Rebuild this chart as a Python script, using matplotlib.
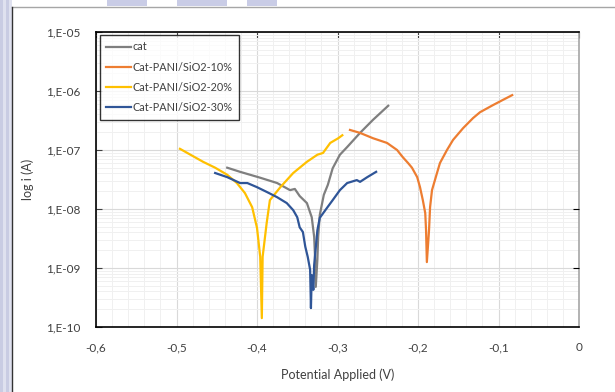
import numpy as np
import matplotlib
matplotlib.use('Agg')
import matplotlib.pyplot as plt
from matplotlib.patches import Rectangle
from matplotlib.lines import Line2D
from matplotlib.ticker import FixedLocator, NullFormatter, MultipleLocator

plt.rcParams['font.family'] = ['Lato', 'DejaVu Sans']

# potential (V) and log10 of current (A)
v_cat = [-0.437, -0.421, -0.396, -0.375, -0.359, -0.353, -0.347, -0.338, -0.332, -0.329,
         -0.328, -0.327, -0.325, -0.324, -0.322, -0.317, -0.312, -0.306, -0.297, -0.288,
         -0.272, -0.256, -0.237]
logi_cat = [-7.30, -7.37, -7.47, -7.56, -7.68, -7.66, -7.78, -7.90, -8.14, -8.47,
            -8.78, -9.32, -8.86, -8.47, -8.10, -7.76, -7.59, -7.31, -7.08, -6.95,
            -6.71, -6.49, -6.25]

v_10 = [-0.2845, -0.272, -0.256, -0.2385, -0.226, -0.219, -0.2124, -0.2075, -0.201, -0.1975,
        -0.194, -0.191, -0.190, -0.189, -0.1863, -0.185, -0.1826, -0.1764, -0.1727, -0.164,
        -0.1565, -0.144, -0.1317, -0.123, -0.107, -0.0944, -0.083]
logi_10 = [-6.66, -6.71, -6.80, -6.88, -7.00, -7.12, -7.22, -7.30, -7.46, -7.63,
           -7.85, -8.07, -8.36, -8.90, -8.36, -7.97, -7.68, -7.39, -7.22, -7.00,
           -6.83, -6.63, -6.46, -6.36, -6.24, -6.15, -6.07]

v_20 = [-0.4957, -0.467, -0.452, -0.437, -0.425, -0.415, -0.406, -0.400, -0.396, -0.394,
        -0.393, -0.388, -0.384, -0.371, -0.355, -0.338, -0.325, -0.318, -0.309, -0.299, -0.294]
logi_20 = [-6.98, -7.20, -7.30, -7.42, -7.56, -7.73, -7.97, -8.32, -8.81, -9.85,
           -8.81, -8.24, -7.85, -7.63, -7.39, -7.20, -7.08, -7.05, -6.88, -6.80, -6.75]

v_30 = [-0.452, -0.437, -0.421, -0.412, -0.400, -0.388, -0.375, -0.363, -0.355, -0.350,
        -0.347, -0.343, -0.340, -0.337, -0.334, -0.333, -0.332, -0.330, -0.329, -0.325,
        -0.322, -0.313, -0.306, -0.297, -0.288, -0.276, -0.272, -0.263, -0.252]
logi_30 = [-7.39, -7.46, -7.56, -7.56, -7.63, -7.71, -7.80, -7.90, -8.02, -8.14,
           -8.31, -8.39, -8.64, -8.81, -9.03, -9.68, -9.12, -9.37, -8.95, -8.36,
           -8.15, -7.98, -7.85, -7.68, -7.56, -7.51, -7.54, -7.46, -7.37]

labels = ['cat', 'Cat-PANI/SiO2-10%', 'Cat-PANI/SiO2-20%', 'Cat-PANI/SiO2-30%']
colors = ['#7f7f7f', '#ed7d31', '#ffc000', '#2f5597']
xticks = [-0.6, -0.5, -0.4, -0.3, -0.2, -0.1, 0]
xtick_labels = ['-0,6', '-0,5', '-0,4', '-0,3', '-0,2', '-0,1', '0']
yticks = [1e-10, 1e-9, 1e-8, 1e-7, 1e-6, 1e-5]
ytick_labels = ['1,E-10', '1,E-09', '1,E-08', '1,E-07', '1,E-06', '1,E-05']

fig = plt.figure(figsize=(6.15, 3.92), dpi=100)

# slide background bits
W, H = 615, 392
def px_rect(x0, y0, x1, y1, **kw):
    fig.patches.append(Rectangle((x0 / W, 1 - y1 / H), (x1 - x0) / W, (y1 - y0) / H,
                                 transform=fig.transFigure, **kw))

px_rect(0, 0, 12, 392, color='#dfe1ef', lw=0)
for x0, x1 in [(0, 3), (6, 9)]:
    px_rect(x0, 0, x1, 392, color='#c9cce3', lw=0)
for x0, x1 in [(107, 147), (177, 227), (247, 277)]:
    px_rect(x0, 0, x1, 6, color='#c9cce6', lw=0)
fig.lines.append(Line2D([12 / W, 1], [1 - 7 / H] * 2, transform=fig.transFigure,
                        color='#a6a6a6', lw=1))
fig.lines.append(Line2D([12 / W] * 2, [0, 1 - 7 / H], transform=fig.transFigure,
                        color='#333333', lw=1))

ax = fig.add_axes([96 / W, 1 - 327 / H, 483 / W, 295 / H])

series = [(v_cat, logi_cat), (v_10, logi_10), (v_20, logi_20), (v_30, logi_30)]
for (v, li), lab, c in zip(series, labels, colors):
    ax.plot(v, 10 ** np.array(li), color=c, lw=1.6, label=lab)

ax.set_yscale('log')
ax.set_xlim(-0.6, 0)
ax.set_ylim(1e-10, 1e-5)
ax.set_xticks(xticks)
ax.set_xticklabels(xtick_labels)
ax.xaxis.set_minor_locator(MultipleLocator(0.02))
ax.set_yticks(yticks)
ax.set_yticklabels(ytick_labels)
ax.yaxis.set_minor_locator(FixedLocator([m * 10.0 ** e for e in range(-10, -5) for m in range(2, 10)]))
ax.yaxis.set_minor_formatter(NullFormatter())

ax.grid(which='major', color='#d9d9d9', lw=0.8)
ax.grid(which='minor', color='#f0f0f0', lw=0.7)
ax.set_axisbelow(True)

ax.tick_params(which='both', bottom=False, left=False, length=0)
ax.tick_params(which='major', top=True, direction='in', length=4, width=0.8, color='#595959')
ax.tick_params(axis='x', which='major', pad=11, labelsize=8.5, colors='#404040')
ax.tick_params(axis='y', which='major', pad=11, labelsize=8.5, colors='#404040')
ax.tick_params(axis='y', which='major', left=False, right=False)
ax.tick_params(axis='x', which='minor', top=False)

for s in ['top', 'left', 'bottom']:
    ax.spines[s].set_color('black')
    ax.spines[s].set_linewidth(1.2)
ax.spines['right'].set_color('#a6a6a6')
ax.spines['right'].set_linewidth(1.2)

# small inward ticks on the right side
ax2 = ax.twinx()
ax2.set_yscale('log')
ax2.set_ylim(1e-10, 1e-5)
ax2.set_yticks([1e-9, 1e-8])
ax2.yaxis.set_minor_locator(FixedLocator([]))
ax2.tick_params(axis='y', direction='in', length=4, width=0.8, labelright=False, color='black')
for s in ax2.spines.values():
    s.set_visible(False)

ax.set_xlabel('Potential Applied (V)', fontsize=9, color='#404040', labelpad=11)
ax.set_ylabel('log i (A)', fontsize=9, color='#404040', labelpad=9)

leg = ax.legend(loc='upper left', bbox_to_anchor=(0.008, 0.99), borderaxespad=0,
                fontsize=7.8, frameon=True, fancybox=False, handlelength=2.3,
                labelspacing=0.85, handletextpad=0.1, borderpad=0.6)
leg.get_frame().set_edgecolor('black')
leg.get_frame().set_linewidth(1.0)
for t in leg.get_texts():
    t.set_color('#404040')

fig.savefig('out.png', dpi=100)
